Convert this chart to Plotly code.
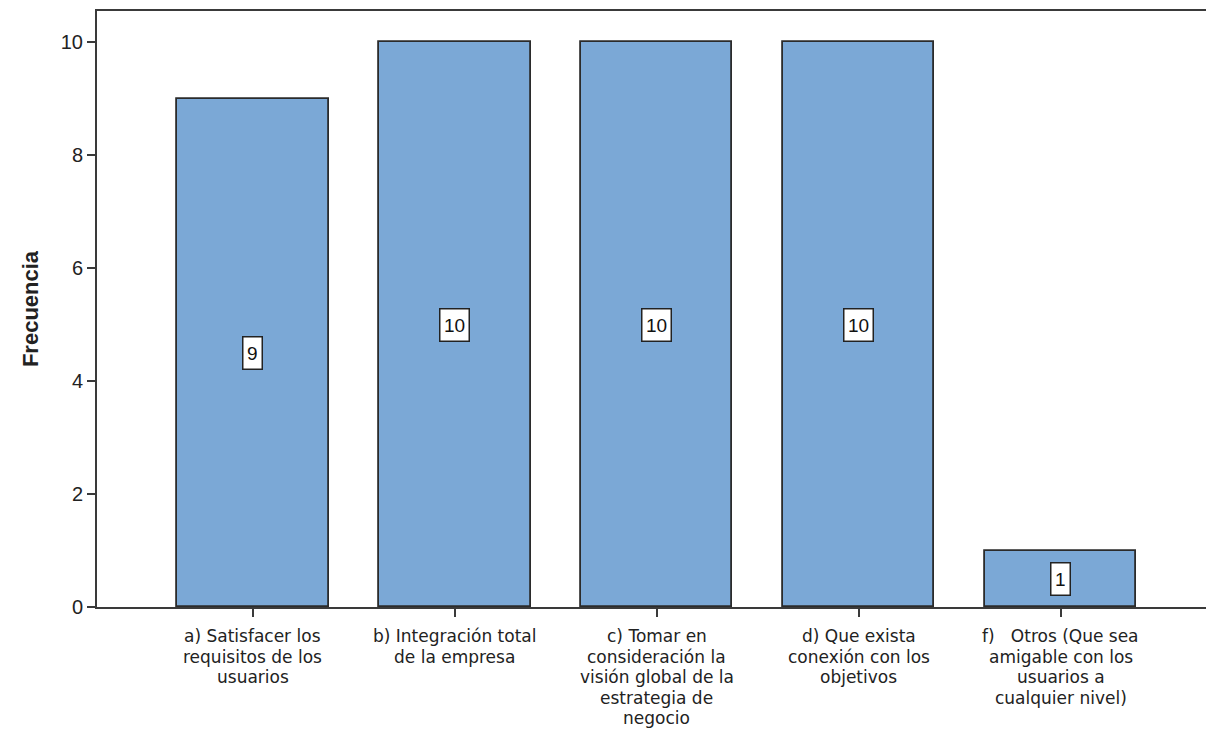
import plotly.graph_objects as go

categories = [
    "a) Satisfacer los<br>requisitos de los<br>usuarios",
    "b) Integración total<br>de la empresa",
    "c) Tomar en<br>consideración la<br>visión global de la<br>estrategia de<br>negocio",
    "d) Que exista<br>conexión con los<br>objetivos",
    "f)   Otros (Que sea<br>amigable con los<br>usuarios a<br>cualquier nivel)",
]
frecuencia = [9, 10, 10, 10, 1]
y_ticks = [0, 2, 4, 6, 8, 10]

positions = list(range(len(categories)))
font_family = "Liberation Sans, Arial, sans-serif"
label_family = "DejaVu Sans, Liberation Sans, sans-serif"
axis_color = "#3a3a3a"
text_color = "#222"

fig = go.Figure()
fig.add_trace(go.Bar(
    x=positions,
    y=frecuencia,
    width=0.75,
    marker=dict(color="#7BA8D6", line=dict(color="#2b2b2b", width=1.8)),
    hoverinfo="skip",
))

# value labels in boxed annotations at half the bar height
for xi, v in zip(positions, frecuencia):
    fig.add_annotation(
        x=xi, y=v / 2, text=str(v), showarrow=False,
        font=dict(family=font_family, size=19, color="#111"),
        height=24, borderpad=3.5,
        bgcolor="white", bordercolor="#222", borderwidth=1.5,
    )

# category labels, one annotation per line for tight line spacing
line_step = 20.5
for xi, label in zip(positions, categories):
    for k, line in enumerate(label.split("<br>")):
        fig.add_annotation(
            x=xi, xref="x", y=0, yref="paper", yanchor="middle",
            yshift=-29 - k * line_step, text=line, showarrow=False,
            font=dict(family=label_family, size=17, color=text_color),
        )

fig.update_layout(
    width=1206, height=729,
    margin=dict(l=97, r=0, t=11, b=122),
    plot_bgcolor="white", paper_bgcolor="white",
    showlegend=False,
    font=dict(family=font_family, size=16, color=text_color),
    bargap=0,
)
fig.update_xaxes(
    range=[-0.772, 4.72],
    tickmode="array", tickvals=positions, ticktext=[""] * len(positions),
    ticks="outside", ticklen=8, tickwidth=2, tickcolor=axis_color,
    showline=True, linecolor=axis_color, linewidth=2, mirror=True,
    showgrid=False, zeroline=False,
)
fig.update_yaxes(
    range=[0, 10.55],
    tickmode="array", tickvals=y_ticks,
    ticks="outside", ticklen=8, tickwidth=2, tickcolor=axis_color,
    showline=True, linecolor=axis_color, linewidth=2,
    showgrid=False, zeroline=False,
    tickfont=dict(size=20, color=text_color),
    title=dict(text="<b>Frecuencia</b>", font=dict(size=22, color=text_color), standoff=16),
)

fig.write_html("out.html")
